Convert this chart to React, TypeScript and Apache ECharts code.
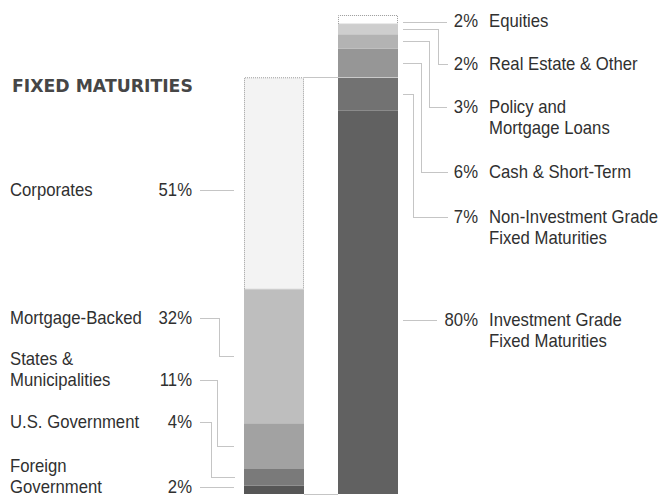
import React, { useEffect, useRef } from "react";
import * as echarts from "echarts";

// ---------------- data ----------------
const categories = ["Fixed Maturities", "Total Investments"];
const titleText = "FIXED MATURITIES";

// Fixed maturities breakdown, bottom to top (% of fixed maturities)
const fmNames = ["Foreign Government", "U.S. Government", "States & Municipalities", "Mortgage-Backed", "Corporates"];
const fmLines = [["Foreign", "Government"], ["U.S. Government"], ["States &", "Municipalities"], ["Mortgage-Backed"], ["Corporates"]];
const fmValues = [2, 4, 11, 32, 51];

// Total investments, bottom to top (% of total)
const totNames = [
  "Investment Grade Fixed Maturities",
  "Non-Investment Grade Fixed Maturities",
  "Cash & Short-Term",
  "Policy and Mortgage Loans",
  "Real Estate & Other",
  "Equities",
];
const totLines = [
  ["Investment Grade", "Fixed Maturities"],
  ["Non-Investment Grade", "Fixed Maturities"],
  ["Cash & Short-Term"],
  ["Policy and", "Mortgage Loans"],
  ["Real Estate & Other"],
  ["Equities"],
];
const totValues = [80, 7, 6, 3, 2, 2];
const fixedMaturityParts = [0, 1]; // segments of the right bar that make up fixed maturities

// ---------------- styles / layout ----------------
const fmColors = ["#565656", "#7a7a7a", "#a2a2a2", "#bebebe", "#f3f3f3"];
const totColors = ["#616161", "#727272", "#969696", "#b3b3b3", "#cecece", "#ffffff"];
const fmLabelY = [487, 422, 380, 318, 190];
const fmElbowX = [0, 211, 217, 219, 0];
const totLabelY = [320, 217, 172, 107, 64, 21.5];
const totElbowX = [0, 413, 421, 429, 438, 0];

const TEXT = "#303030";
const LEAD = "#8a8a8a";
const FAMILY = '"Liberation Sans", Arial, sans-serif';
const FONT_SIZE = 17.5;
const TITLE_FONT = 'bold 17px "DejaVu Sans", sans-serif';
const BAR_W = 60;
const LINE_H = 21;

function fitScale(font: string, text: string, target: number, fallback: number): number {
  try {
    const c = document.createElement("canvas").getContext("2d");
    if (!c) return fallback;
    c.font = font;
    const w = c.measureText(text).width;
    if (!w) return fallback;
    return Math.max(0.7, Math.min(1.3, target / w));
  } catch (e) {
    return fallback;
  }
}

export default function App() {
  const ref = useRef<HTMLDivElement>(null);

  useEffect(() => {
    const el = ref.current;
    if (!el) return;
    const chart = echarts.init(el, null, { renderer: "svg" });

    const sum = (a: number[]) => a.reduce((s, v) => s + v, 0);
    const totalSum = sum(totValues);
    const fmSum = sum(fmValues);
    const fixedShare = fixedMaturityParts.reduce((s, i) => s + totValues[i], 0);
    const leftMax = (fmSum * totalSum) / fixedShare;

    const series: any[] = [];
    fmValues.forEach((v, i) => {
      series.push({
        name: fmNames[i],
        type: "bar",
        stack: "fm",
        xAxisIndex: 0,
        yAxisIndex: 1,
        barWidth: BAR_W,
        silent: true,
        data: [v, "-"],
        itemStyle:
          i === fmValues.length - 1
            ? { color: fmColors[i], borderColor: "#9a9a9a", borderWidth: 1, borderType: "dotted" }
            : { color: fmColors[i] },
      });
    });
    totValues.forEach((v, i) => {
      series.push({
        name: totNames[i],
        type: "bar",
        stack: "tot",
        xAxisIndex: 1,
        yAxisIndex: 0,
        barWidth: BAR_W,
        silent: true,
        data: ["-", v],
        itemStyle:
          i === totValues.length - 1
            ? { color: totColors[i], borderColor: "#9a9a9a", borderWidth: 1, borderType: "dotted" }
            : { color: totColors[i] },
      });
    });

    chart.setOption({
      animation: false,
      grid: { left: 227, right: 247, top: 15, bottom: 2, containLabel: false },
      xAxis: [
        { type: "category", data: categories, show: false },
        { type: "category", data: categories, show: false },
      ],
      yAxis: [
        { type: "value", min: 0, max: totalSum, show: false },
        { type: "value", min: 0, max: leftMax, show: false },
      ],
      series,
    });

    const font = `${FONT_SIZE}px ${FAMILY}`;
    const sx = fitScale(font, "Non-Investment Grade", 169, 0.94);
    const tsx = fitScale(TITLE_FONT, titleText, 181, 1);
    const fmSeriesIdx = 0;
    const totSeriesIdx = fmValues.length;
    const pL = (v: number) => chart.convertToPixel({ seriesIndex: fmSeriesIdx }, [0, v]) as number[];
    const pR = (v: number) => chart.convertToPixel({ seriesIndex: totSeriesIdx }, [1, v]) as number[];

    const leftCx = pL(0)[0];
    const rightCx = pR(0)[0];
    const leftL = leftCx - BAR_W / 2;
    const leftR = leftCx + BAR_W / 2;
    const rightL = rightCx - BAR_W / 2;
    const rightR = rightCx + BAR_W / 2;
    const bottomY = pL(0)[1];
    const leftTopY = pL(fmSum)[1];

    const crisp = (v: number) => Math.round(v) + 0.5;
    const g: any[] = [];
    const lead = (pts: number[][], stroke = LEAD) =>
      g.push({
        type: "polyline",
        silent: true,
        shape: { points: pts.map(([x, y]) => [crisp(x), crisp(y)]) },
        style: { stroke, lineWidth: 1, lineDash: [1, 1], fill: null },
        z: 10,
      });
    const label = (text: string, x: number, y: number, align: string, va: string) =>
      g.push({
        type: "text",
        x,
        y,
        scaleX: sx,
        silent: true,
        style: { text, font, fill: TEXT, align, verticalAlign: va, lineHeight: LINE_H },
      });

    // title
    g.push({
      type: "text",
      x: 12,
      y: 86,
      scaleX: tsx,
      silent: true,
      style: {
        text: titleText,
        font: TITLE_FONT,
        fill: "#464646",
        align: "left",
        verticalAlign: "middle",
      },
    });

    // left labels
    let cum = 0;
    fmValues.forEach((v, i) => {
      const y0 = pL(cum)[1];
      const y1 = pL(cum + v)[1];
      cum += v;
      const mid = (y0 + y1) / 2;
      const ly = fmLabelY[i];
      label(fmLines[i].join("\n"), 10, ly + LINE_H / 2, "left", "bottom");
      label(`${v}%`, 192, ly, "right", "middle");
      const endX = leftL - 10;
      if (Math.abs(mid - ly) < 25) {
        lead([[200, ly], [endX, ly]]);
      } else {
        const ex = fmElbowX[i];
        lead([[200, ly], [ex, ly], [ex, mid], [endX, mid]]);
      }
    });

    // right labels
    cum = 0;
    totValues.forEach((v, i) => {
      const y0 = pR(cum)[1];
      const y1 = pR(cum + v)[1];
      cum += v;
      const mid = (y0 + y1) / 2;
      const ly = totLabelY[i];
      label(`${v}%`, 478, ly, "right", "middle");
      label(totLines[i].join("\n"), 489, ly - LINE_H / 2, "left", "top");
      const startX = rightR + 5;
      if (Math.abs(mid - ly) < 25) {
        const endX = v >= 10 ? 436 : 447;
        lead([[startX, ly], [endX, ly]]);
      } else {
        const ex = totElbowX[i];
        lead([[startX, mid], [ex, mid], [ex, ly], [447, ly]]);
      }
    });

    // connectors between the bars
    lead([[leftR, leftTopY], [rightL, leftTopY]], "#8a8a8a");
    lead([[rightL, leftTopY], [rightR, leftTopY]], "#ffffff");
    lead([[leftR, bottomY], [rightL, bottomY]], "#8a8a8a");

    chart.setOption({ graphic: g });

    return () => {
      chart.dispose();
    };
  }, []);

  return (
    <div
      ref={ref}
      style={{ position: "absolute", left: 0, top: 0, width: 662, height: 496, background: "#ffffff" }}
    />
  );
}
